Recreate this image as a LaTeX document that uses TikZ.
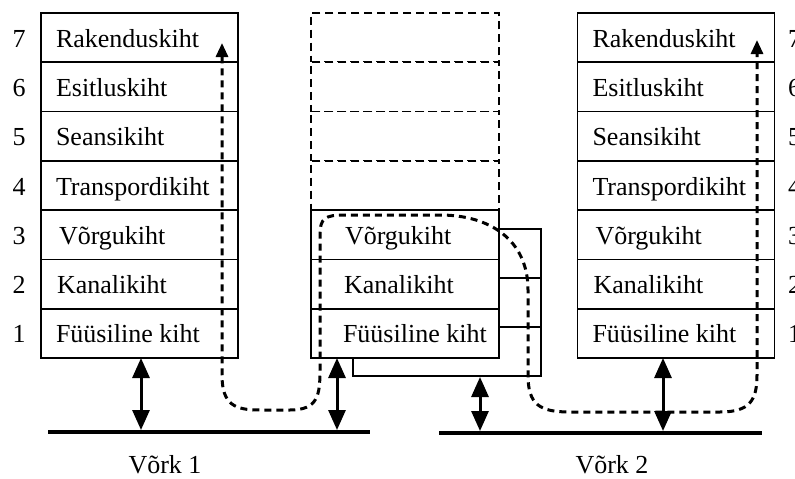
\documentclass[tikz,border=0pt]{standalone}
\usepackage{fontspec}
\setmainfont{Liberation Serif}
\usetikzlibrary{calc}
\usetikzlibrary{arrows.meta}

\begin{document}
\begin{tikzpicture}[x=1pt,y=-1pt,inner sep=0pt,line width=1.6pt,
  layer/.style={draw,fill=white,minimum width=197pt,minimum height=49.3pt},
  mlayer/.style={draw,fill=white,minimum width=188pt,minimum height=49.3pt},
  dlayer/.style={mlayer,dash pattern=on 8pt off 5pt},
  txt/.style={anchor=base west,font=\fontsize{26}{30}\selectfont},
  num/.style={anchor=base,font=\fontsize{26}{30}\selectfont},
  bus/.style={line width=4.5pt},
  link/.style={line width=3pt,{Triangle[length=20pt,width=17pt]}-{Triangle[length=20pt,width=17pt]}},
  route/.style={line width=3pt,dash pattern=on 7pt off 5pt,{Triangle[length=14pt,width=12pt]}-{Triangle[length=14pt,width=12pt]}}]
\useasboundingbox (0,0) rectangle (795,479);
\def\b{9.5}

\node[layer] (L7) at (139.5, 37.6) {};
\node[layer] (L6) at (139.5, 86.9) {};
\node[layer] (L5) at (139.5, 136.2) {};
\node[layer] (L4) at (139.5, 185.5) {};
\node[layer] (L3) at (139.5, 234.8) {};
\node[layer] (L2) at (139.5, 284.1) {};
\node[layer] (L1) at (139.5, 333.4) {};
\node[txt] at ($(L7.west) + (15, \b)$) {Rakenduskiht};
\node[txt] at ($(L6.west) + (15, \b)$) {Esitluskiht};
\node[txt] at ($(L5.west) + (15, \b)$) {Seansikiht};
\node[txt] at ($(L4.west) + (15, \b)$) {Transpordikiht};
\node[txt] at ($(L3.west) + (18, \b)$) {Võrgukiht};
\node[txt] at ($(L2.west) + (16, \b)$) {Kanalikiht};
\node[txt] at ($(L1.west) + (15, \b)$) {Füüsiline kiht};
\node[num] at ($(L7.west) + (-21, \b)$) {7};
\node[num] at ($(L6.west) + (-21, \b)$) {6};
\node[num] at ($(L5.west) + (-21, \b)$) {5};
\node[num] at ($(L4.west) + (-21, \b)$) {4};
\node[num] at ($(L3.west) + (-21, \b)$) {3};
\node[num] at ($(L2.west) + (-21, \b)$) {2};
\node[num] at ($(L1.west) + (-21, \b)$) {1};

\node[layer] (R7) at (676, 37.6) {};
\node[layer] (R6) at (676, 86.9) {};
\node[layer] (R5) at (676, 136.2) {};
\node[layer] (R4) at (676, 185.5) {};
\node[layer] (R3) at (676, 234.8) {};
\node[layer] (R2) at (676, 284.1) {};
\node[layer] (R1) at (676, 333.4) {};
\node[txt] at ($(R7.west) + (15, \b)$) {Rakenduskiht};
\node[txt] at ($(R6.west) + (15, \b)$) {Esitluskiht};
\node[txt] at ($(R5.west) + (15, \b)$) {Seansikiht};
\node[txt] at ($(R4.west) + (15, \b)$) {Transpordikiht};
\node[txt] at ($(R3.west) + (18, \b)$) {Võrgukiht};
\node[txt] at ($(R2.west) + (16, \b)$) {Kanalikiht};
\node[txt] at ($(R1.west) + (15, \b)$) {Füüsiline kiht};
\node[txt] at ($(R7.east) + (12, \b)$) {7};
\node[txt] at ($(R6.east) + (12, \b)$) {6};
\node[txt] at ($(R5.east) + (12, \b)$) {5};
\node[txt] at ($(R4.east) + (12, \b)$) {4};
\node[txt] at ($(R3.east) + (12, \b)$) {3};
\node[txt] at ($(R2.east) + (12, \b)$) {2};
\node[txt] at ($(R1.east) + (12, \b)$) {1};

\node[mlayer] (S3) at (447, 253.5) {};
\node[mlayer] (S2) at (447, 302.5) {};
\node[mlayer] (S1) at (447, 351.5) {};
\node[dlayer] (D7) at (405, 37.6) {};
\node[dlayer] (D6) at (405, 86.9) {};
\node[dlayer] (D5) at (405, 136.2) {};
\node[dlayer] (D4) at (405, 185.5) {};
\node[mlayer] (M3) at (405, 234.8) {};
\node[mlayer] (M2) at (405, 284.1) {};
\node[mlayer] (M1) at (405, 333.4) {};
\node[txt] at ($(M3.west) + (34, \b)$) {Võrgukiht};
\node[txt] at ($(M2.west) + (33, \b)$) {Kanalikiht};
\node[txt] at ($(M1.west) + (32, \b)$) {Füüsiline kiht};

\coordinate (b1w) at (48, 432);
\coordinate (b1e) at (370, 432);
\coordinate (b2w) at (439, 433);
\coordinate (b2e) at (762, 433);
\draw[bus] (b1w) -- (b1e);
\draw[bus] (b2w) -- (b2e);
\node[num] (v1) at (165, 473) {Võrk 1};
\node[num] (v2) at (612, 473) {Võrk 2};

\coordinate (la) at (141, 358);
\coordinate (ma) at (337, 358);
\coordinate (mb) at (480, 377);
\coordinate (ra) at (663, 358);
\draw[link] (la) -- ($(la |- b1w) + (0, -2)$);
\draw[link] (ma) -- ($(ma |- b1w) + (0, -2)$);
\draw[link] (mb) -- ($(mb |- b2w) + (0, -2)$);
\draw[link] (ra) -- ($(ra |- b2w) + (0, -2)$);

\coordinate (pa) at (222, 43);
\coordinate (pb) at (757, 40);
\draw[route] (pa) -- (222, 375) .. controls (222, 405) and (235, 410) .. (260, 410)
  -- (290, 410) .. controls (318, 410) and (320, 395) .. (320, 370)
  -- (320, 235) .. controls (320, 218) and (325, 215) .. (345, 215)
  -- (440, 215) .. controls (490, 215) and (528, 240) .. (528, 290)
  -- (528, 375) .. controls (528, 405) and (540, 412) .. (570, 412)
  -- (720, 412) .. controls (750, 412) and (757, 400) .. (757, 375) -- (pb);
\end{tikzpicture}
\end{document}
